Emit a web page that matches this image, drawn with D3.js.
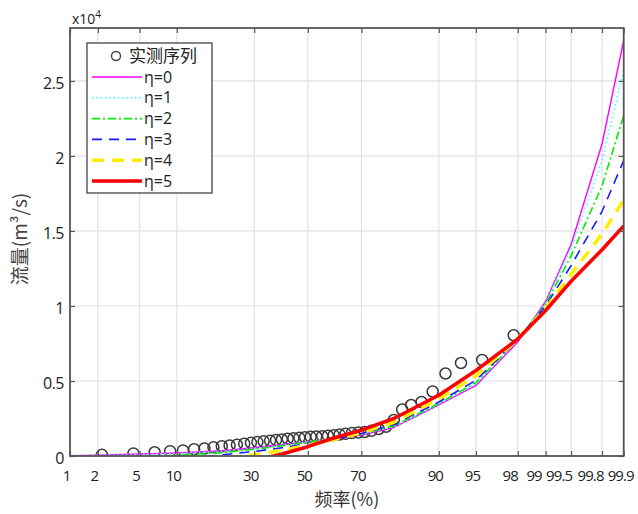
<!DOCTYPE html>
<html><head><meta charset="utf-8">
<script src="https://cdn.jsdelivr.net/npm/d3@7"></script>
<style>body{margin:0;background:#fff}svg{display:block}</style>
</head><body><svg id="c" width="638" height="514"></svg>
<script>
// ---------------- data ----------------
const probTicks = [1, 2, 5, 10, 30, 50, 70, 90, 95, 98, 99, 99.5, 99.8, 99.9];
const probTickLabels = ["1", "2", "5", "10", "30", "50", "70", "90", "95", "98", "99", "99.5", "99.8", "99.9"];
const flowTicks = [0, 5000, 10000, 15000, 20000, 25000];
const flowTickLabels = ["0", "0.5", "1", "1.5", "2", "2.5"];

// observed series (empirical frequency %, flow m3/s)
const obsPct = [2.2, 4.4, 6.7, 8.9, 11.1, 13.3, 15.6, 17.8, 20.0, 22.2, 24.4, 26.7, 28.9, 31.1, 33.3,
  35.6, 37.8, 40.0, 42.2, 44.4, 46.7, 48.9, 51.1, 53.3, 55.6, 57.8, 60.0, 62.2, 64.4, 66.7,
  68.9, 71.1, 73.3, 75.6, 77.8, 80.0, 82.2, 84.4, 86.7, 88.9, 91.1, 93.3, 95.6, 97.8];
const obsFlow = [80, 170, 250, 320, 370, 450, 500, 580, 650, 700, 750, 820, 880, 930, 980,
  1020, 1060, 1100, 1150, 1180, 1210, 1250, 1280, 1300, 1320, 1350, 1390, 1430, 1480, 1530,
  1560, 1600, 1680, 1800, 1950, 2400, 3100, 3400, 3600, 4300, 5500, 6200, 6400, 8050];

// fitted curves at these frequencies (%)
const curvePct = [1, 2, 5, 10, 20, 30, 40, 50, 60, 70, 80, 90, 95, 98, 99, 99.5, 99.8, 99.9];
const eta0 = [20, 60, 130, 200, 350, 550, 750, 950, 1150, 1400, 1900, 3400, 4700, 7600, 10300, 14100, 20800, 27700];
const eta1 = [0, 40, 100, 170, 320, 520, 730, 950, 1170, 1430, 1950, 3450, 4800, 7700, 10200, 13850, 19700, 25700];
const eta2 = [-300, -200, -50, 50, 220, 450, 680, 920, 1170, 1470, 2000, 3500, 4900, 7750, 10100, 13350, 18000, 22700];
const eta3 = [-800, -700, -500, -250, 80, 300, 550, 820, 1120, 1500, 2100, 3600, 5050, 7780, 10000, 12700, 16300, 19700];
const eta4 = [-1200, -1100, -900, -600, -250, 80, 370, 720, 1100, 1550, 2250, 3800, 5350, 7800, 9850, 12100, 14800, 17070];
const eta5 = [-2000, -1800, -1500, -1200, -800, -300, 130, 620, 1200, 1720, 2500, 4050, 5700, 7800, 9700, 11650, 13750, 15330];
const seriesNames = ["η=0", "η=1", "η=2", "η=3", "η=4", "η=5"];
const obsName = "实测序列";

// ---------------- styles ----------------
const seriesStyle = [
  {color: "#ff00ff", width: 1.4, dash: null},
  {color: "#33ffff", width: 1.6, dash: "1.5,2.8"},
  {color: "#00ee00", width: 1.6, dash: "8,3,2,3"},
  {color: "#1a1aff", width: 1.6, dash: "10,7"},
  {color: "#ffee00", width: 3.5, dash: "12,8"},
  {color: "#ff0000", width: 3.5, dash: null}
];
const curves = [eta0, eta1, eta2, eta3, eta4, eta5];

// inverse standard normal CDF (probability-paper transform)
function probit(p) {
  const a = [-3.969683028665376e+01, 2.209460984245205e+02, -2.759285104469687e+02, 1.383577518672690e+02, -3.066479806614716e+01, 2.506628277459239e+00];
  const b = [-5.447609879822406e+01, 1.615858368580409e+02, -1.556989798598866e+02, 6.680131188771972e+01, -1.328068155288572e+01];
  const c = [-7.784894002430293e-03, -3.223964580411365e-01, -2.400758277161838e+00, -2.549732539343734e+00, 4.374664141464968e+00, 2.938163982698783e+00];
  const d = [7.784695709041462e-03, 3.224671290700398e-01, 2.445134137142996e+00, 3.754408661907416e+00];
  const pl = 0.02425, ph = 1 - pl;
  let q, r;
  if (p < pl) { q = Math.sqrt(-2 * Math.log(p)); return (((((c[0]*q+c[1])*q+c[2])*q+c[3])*q+c[4])*q+c[5]) / ((((d[0]*q+d[1])*q+d[2])*q+d[3])*q+1); }
  if (p <= ph) { q = p - 0.5; r = q*q; return (((((a[0]*r+a[1])*r+a[2])*r+a[3])*r+a[4])*r+a[5])*q / (((((b[0]*r+b[1])*r+b[2])*r+b[3])*r+b[4])*r+1); }
  q = Math.sqrt(-2 * Math.log(1 - p)); return -(((((c[0]*q+c[1])*q+c[2])*q+c[3])*q+c[4])*q+c[5]) / ((((d[0]*q+d[1])*q+d[2])*q+d[3])*q+1);
}

const L = 70, R = 623.7, T = 28, B = 456;
const svg = d3.select("#c");
const font = "'Open Sans','Noto Sans CJK SC',sans-serif";

const xz = d3.scaleLinear().domain([probit(0.01), probit(0.999)]).range([L, R]);
const x = pct => xz(probit(pct / 100));
const y = d3.scaleLinear().domain([0, 28530]).range([B, T]);

// grid
const grid = svg.append("g").attr("stroke", "#e2e2e2").attr("stroke-width", 1.2);
grid.selectAll("line.v").data(probTicks).join("line")
  .attr("x1", d => x(d)).attr("x2", d => x(d)).attr("y1", T).attr("y2", B);
grid.selectAll("line.h").data(flowTicks).join("line")
  .attr("y1", d => y(d)).attr("y2", d => y(d)).attr("x1", L).attr("x2", R);

// clip
svg.append("clipPath").attr("id", "clip").append("rect")
  .attr("x", L).attr("y", T).attr("width", R - L).attr("height", B - T);
const plot = svg.append("g").attr("clip-path", "url(#clip)");

// observed points
plot.append("g").selectAll("circle").data(obsPct.map((p, i) => [p, obsFlow[i]])).join("circle")
  .attr("cx", d => x(d[0])).attr("cy", d => y(d[1])).attr("r", 5.5)
  .attr("fill", "none").attr("stroke", "#3a3a3a").attr("stroke-width", 1.5);

// curves
const line = d3.line().x(d => x(d[0])).y(d => y(d[1]));
curves.forEach((vals, k) => {
  const st = seriesStyle[k];
  plot.append("path").datum(curvePct.map((p, i) => [p, vals[i]]))
    .attr("d", line).attr("fill", "none").attr("stroke", st.color)
    .attr("stroke-width", st.width).attr("stroke-dasharray", st.dash)
    .attr("stroke-linejoin", "round");
});

// axes
const labelShift = {"98": -8, "99": -12, "99.5": -12.5, "99.8": -12, "99.9": -3.5};
const xAxis = d3.axisBottom(xz)
  .tickValues(probTicks.map(p => probit(p / 100)))
  .tickFormat((d, i) => probTickLabels[i])
  .tickSizeInner(-5).tickSizeOuter(0).tickPadding(14);
const gx = svg.append("g").attr("transform", `translate(0,${B})`).call(xAxis);
const xTop = d3.axisTop(xz).tickValues(probTicks.map(p => probit(p / 100)))
  .tickFormat("").tickSizeInner(-5).tickSizeOuter(0);
const gxt = svg.append("g").attr("transform", `translate(0,${T})`).call(xTop);

const yAxis = d3.axisLeft(y).tickValues(flowTicks).tickFormat((d, i) => flowTickLabels[i])
  .tickSizeInner(-5).tickSizeOuter(0).tickPadding(6);
const gy = svg.append("g").attr("transform", `translate(${L},0)`).call(yAxis);
const yRight = d3.axisRight(y).tickValues(flowTicks).tickFormat("").tickSizeInner(-5).tickSizeOuter(0);
const gyr = svg.append("g").attr("transform", `translate(${R},0)`).call(yRight);

[gx, gxt, gy, gyr].forEach(g => {
  g.select(".domain").remove();
  g.selectAll("line").attr("stroke", "#555").attr("stroke-width", 1.2);
  g.selectAll("text").attr("font-family", font).attr("font-size", 15.5).attr("fill", "#222");
});
gx.selectAll("text").attr("dx", (d, i) => (labelShift[probTickLabels[i]] ?? -4))
  .attr("letter-spacing", "-0.9px").attr("font-size", 15);
gy.selectAll("text").attr("dy", "0.45em").attr("letter-spacing", "-0.5px").attr("font-size", 16);

// frame
svg.append("rect").attr("x", L).attr("y", T).attr("width", R - L).attr("height", B - T)
  .attr("fill", "none").attr("stroke", "#555").attr("stroke-width", 1.8);

// exponent label
const ex = svg.append("text").attr("x", 72).attr("y", 24).attr("font-family", font)
  .attr("font-size", 14).attr("fill", "#222").text("x10");
ex.append("tspan").attr("dy", -6).attr("font-size", 10).text("4");

// axis titles
svg.append("text").attr("x", (L + R) / 2).attr("y", 506).attr("text-anchor", "middle")
  .attr("font-family", "'Noto Sans CJK SC',sans-serif").attr("font-size", 18).attr("fill", "#333")
  .text("频率(%)");
svg.append("text").attr("transform", "translate(27,239) rotate(-90)").attr("text-anchor", "middle")
  .attr("font-family", "'Noto Sans CJK SC',sans-serif").attr("font-size", 19).attr("fill", "#444")
  .text("流量(m³/s)");

// legend
const lg = svg.append("g");
lg.append("rect").attr("x", 87).attr("y", 43).attr("width", 125).attr("height", 150)
  .attr("fill", "#fff").attr("stroke", "#444").attr("stroke-width", 1.3);
lg.append("circle").attr("cx", 116).attr("cy", 56).attr("r", 4.5)
  .attr("fill", "none").attr("stroke", "#444").attr("stroke-width", 1.4);
lg.append("text").attr("x", 129).attr("y", 62).attr("font-family", "'Noto Sans CJK SC',sans-serif")
  .attr("font-size", 17).attr("fill", "#222").text(obsName);
seriesNames.forEach((name, k) => {
  const yy = 77 + k * 20.8, st = seriesStyle[k];
  lg.append("line").attr("x1", 92).attr("x2", 142).attr("y1", yy).attr("y2", yy)
    .attr("stroke", st.color).attr("stroke-width", st.width).attr("stroke-dasharray", st.dash);
  lg.append("text").attr("x", 144).attr("y", yy + 5.5).attr("font-family", font)
    .attr("font-size", 16).attr("fill", "#222").text(name);
});
</script></body></html>
